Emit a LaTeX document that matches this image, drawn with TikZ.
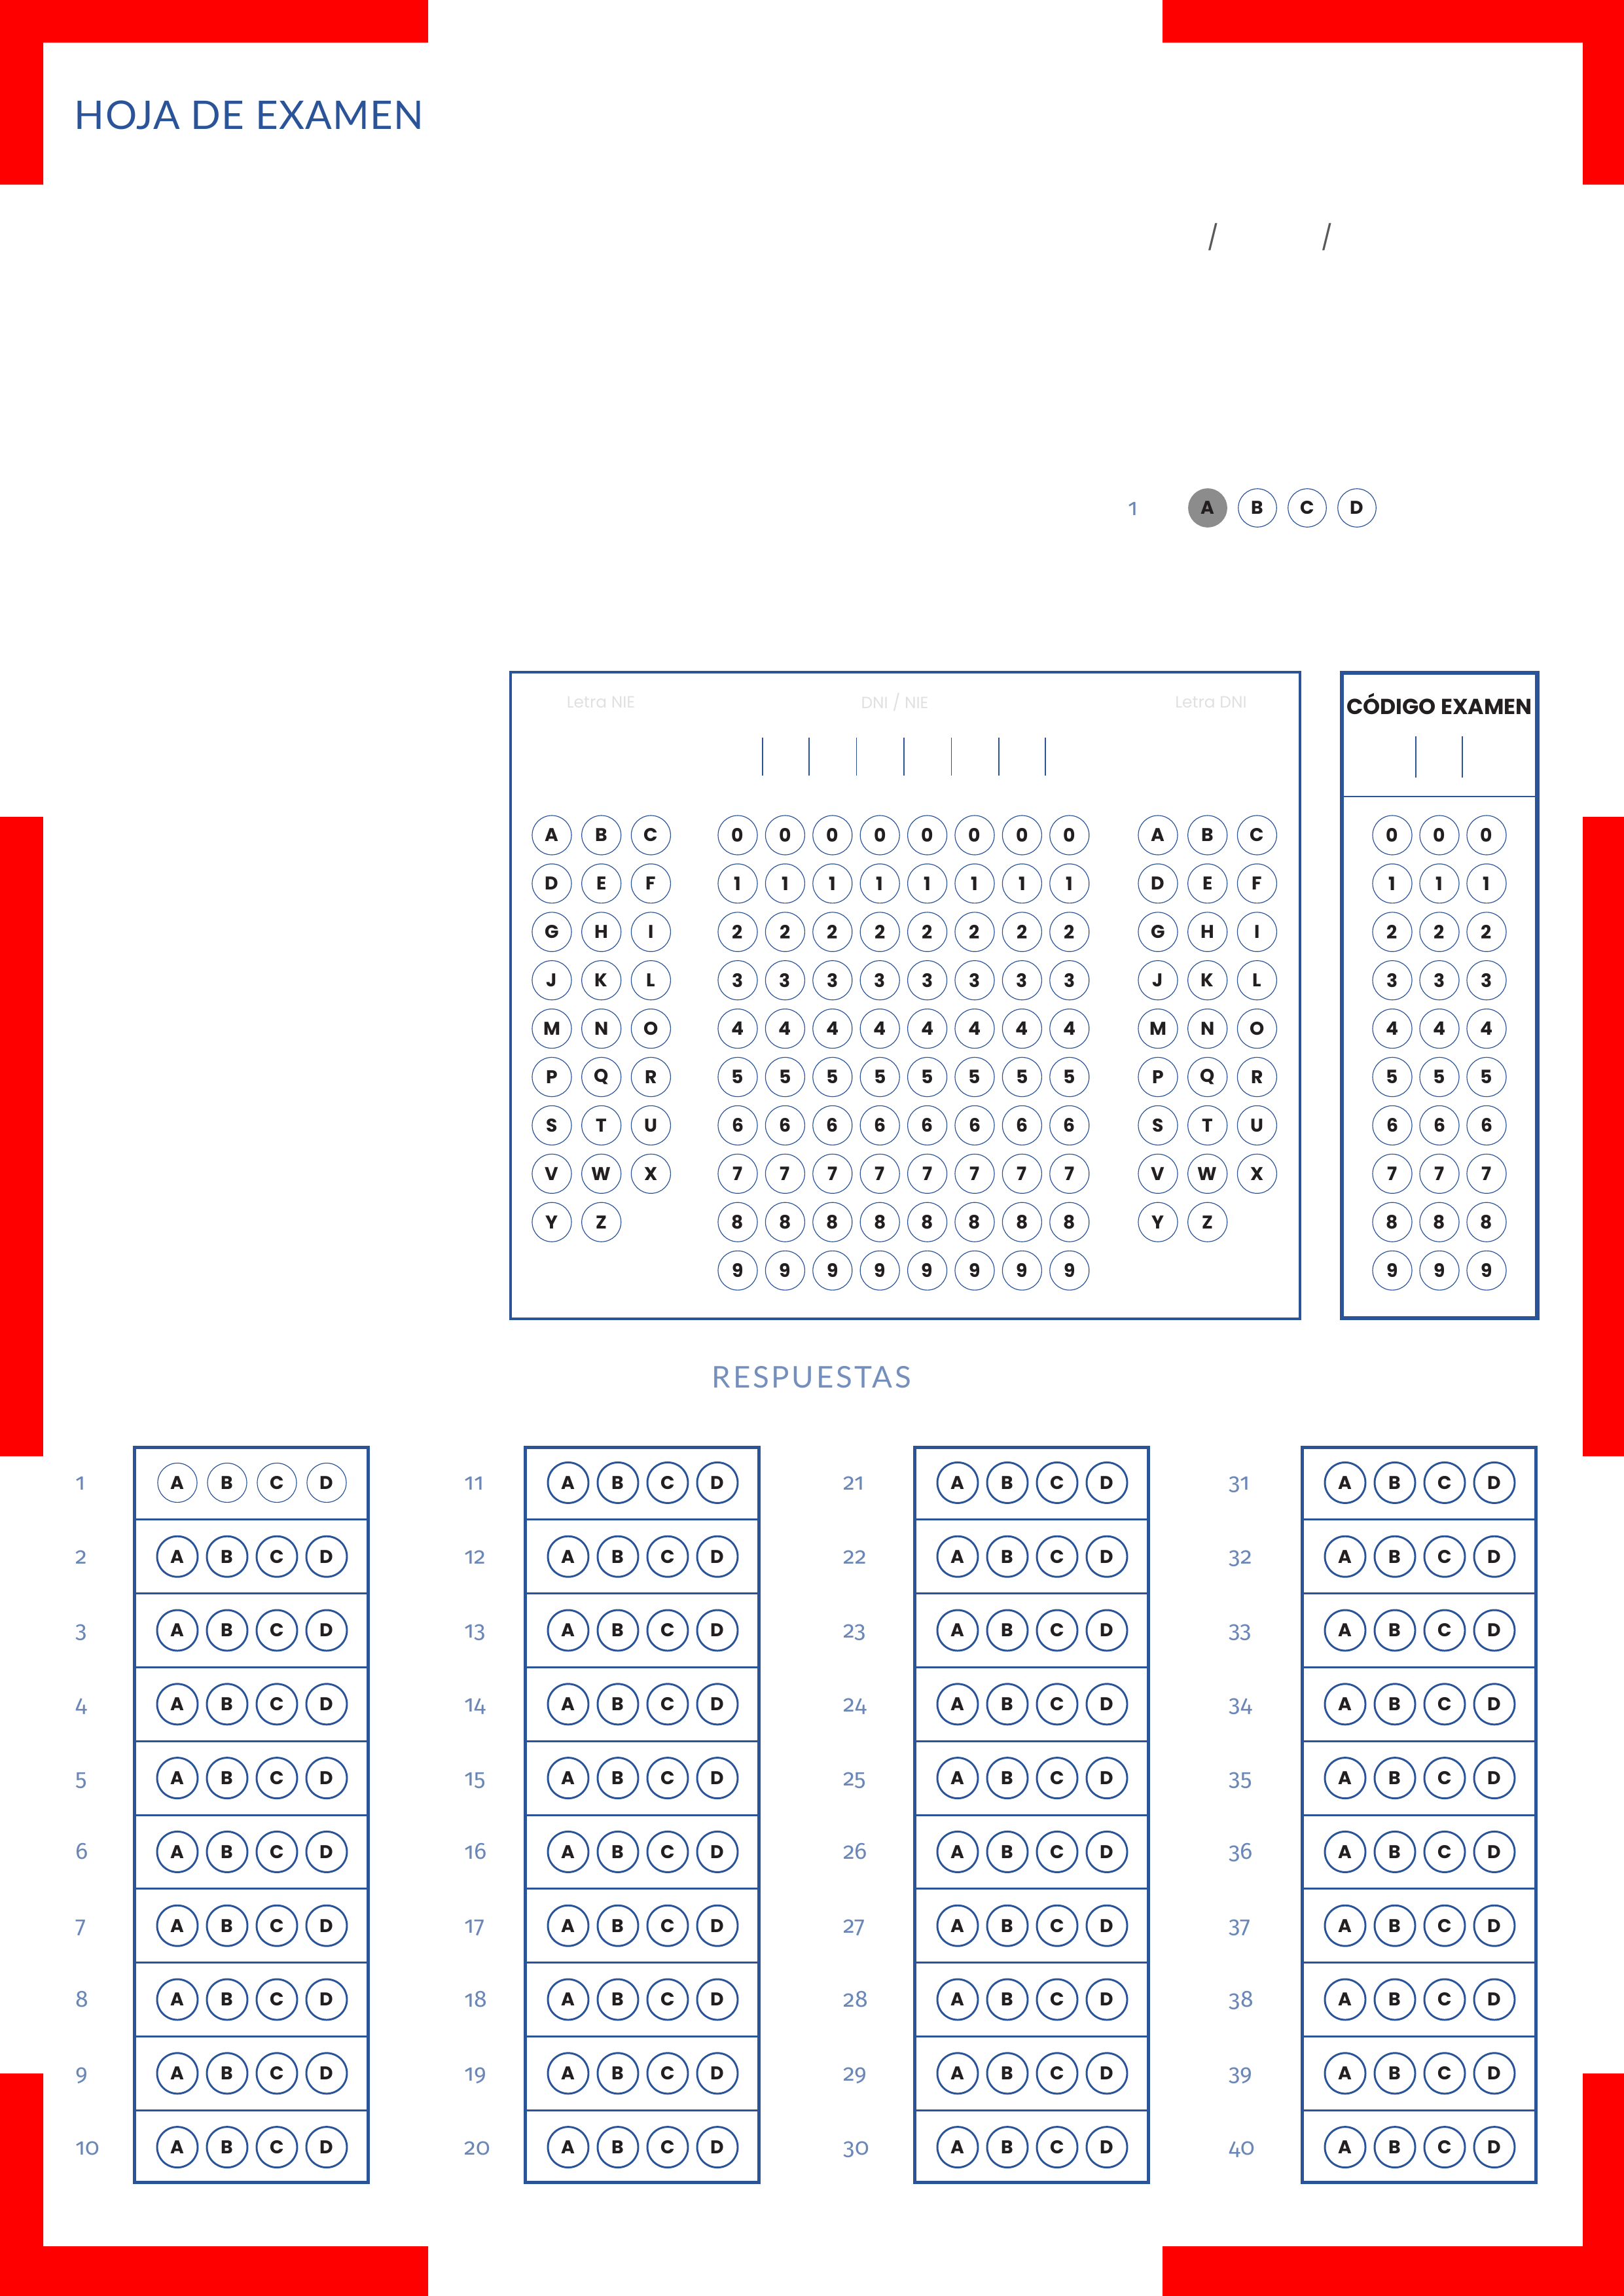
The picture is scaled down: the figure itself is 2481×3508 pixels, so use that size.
\documentclass[tikz,border=0pt]{standalone}
\usepackage{fontspec}
\setmainfont{Poppins}
\newfontfamily\numfont[Numbers=OldStyle]{Fira Sans}
\newfontfamily\titlefont[LetterSpace=2]{Lato}
\newfontfamily\headfont[LetterSpace=8]{Lato}
\definecolor{formblue}{RGB}{42,83,152}
\definecolor{markred}{RGB}{255,0,0}
\definecolor{inkgray}{RGB}{35,31,32}
\tikzset{
  bubble/.style={circle, draw=formblue, line width=0.1mm, minimum size=5.08mm, inner sep=0pt,
    text=inkgray, font=\bfseries\fontsize{6.8}{6.8}\selectfont},
  ansbubble/.style={bubble, line width=0.25mm, minimum size=5.25mm},
  qnum/.style={anchor=mid west, inner sep=0pt, text=formblue!70, font=\numfont\fontsize{8.6}{9}\selectfont},
  ghost/.style={inner sep=0pt, text=black!12, font=\fontsize{6}{6}\selectfont},
  tick/.style={draw=formblue, line width=0.12mm}
}
\begin{document}
\begin{tikzpicture}[x=0.084667mm,y=-0.084667mm]
        \useasboundingbox (0,0) rectangle (2481,3508);
        % Corner marks
        \fill[markred] (0,0) rectangle (654,65) (0,0) rectangle (66,282);
        \fill[markred] (1776,0) rectangle (2481,65) (2418,0) rectangle (2481,282);
        \fill[markred] (0,1248) rectangle (66,2225);
        \fill[markred] (2418,1248) rectangle (2481,2225);
        \fill[markred] (0,3168) rectangle (66,3508) (0,3432) rectangle (654,3508);
        \fill[markred] (2418,3168) rectangle (2481,3508) (1776,3432) rectangle (2481,3508);

        % Header
        \node[anchor=west, inner sep=0pt, text=formblue, font=\titlefont\fontsize{14.5}{15}\selectfont] (title) at (113,176) {HOJA DE EXAMEN};
        \node[inner sep=0pt, text=black!65, font=\fontsize{9}{9}\selectfont] (date-s1) at (1853,362) {/};
        \node[inner sep=0pt, text=black!65, font=\fontsize{9}{9}\selectfont] (date-s2) at (2027,362) {/};
        \node[qnum] (ex-num) at (1723,776) {1};
        \node[bubble, minimum size=4.95mm, fill=black!45, draw=black!45] (ex-A) at (1845,776) {A};
        \foreach \opt/\x in {B/1921,C/1997,D/2073}
            \node[bubble, minimum size=4.95mm] (ex-\opt) at (\x,776) {\opt};

        % DNI / NIE
        \draw[formblue, line width=0.34mm] (780,1027) rectangle (1986,2015);
        \node[ghost] (nie-head) at (918,1073) {Letra NIE};
        \node[ghost] (num-head) at (1367,1073) {DNI / NIE};
        \node[ghost] (dni-head) at (1850,1073) {Letra DNI};
        \foreach \x in {1165,1236,1308.5,1381,1453.5,1526,1597}
            \draw[tick] (\x,1127) -- (\x,1185);
        \foreach \l [count=\i from 0] in {A,...,Z} {
            \pgfmathtruncatemacro\row{int(\i/3)}
            \pgfmathtruncatemacro\col{mod(\i,3)}
            \node[bubble] (nie-\l) at ({843+75.7*\col},{1276+73.9*\row}) {\l};
            \node[bubble] (dni-\l) at ({1769+75.7*\col},{1276+73.9*\row}) {\l};
        }
        \foreach \d in {0,...,9} {
            \foreach \c in {1,...,8}
                \node[bubble] (num-\c-\d) at ({1127+72.4*(\c-1)},{1276+73.9*\d}) {\d};
            \foreach \c in {1,2,3}
                \node[bubble] (cod-\c-\d) at ({2127+72*(\c-1)},{1276+73.9*\d}) {\d};
        }

        % Codigo examen
        \draw[formblue, line width=0.55mm] (2050,1028) rectangle (2348.5,2014);
        \draw[formblue, line width=0.15mm] (2050,1217) -- (2348.5,1217);
        \node[inner sep=0pt, text=inkgray, font=\bfseries\fontsize{8}{8}\selectfont] (cod-head) at (2199,1075) {CÓDIGO EXAMEN};
        \foreach \x in {2163,2234}
            \draw[tick] (\x,1125) -- (\x,1188);

        % Respuestas
        \node[inner sep=0pt, text=formblue!65, font=\headfont\fontsize{11}{12}\selectfont] (ans-head) at (1240,2104) {RESPUESTAS};
        \foreach \k/\bx/\nx in {0/203/115,1/800/709,2/1395/1288,3/1987/1877} {
            \draw[formblue, line width=0.42mm] ({\bx+2.5},2211.5) rectangle ({\bx+359.5},3334.5);
            \foreach \q in {1,...,9}
                \draw[formblue, line width=0.25mm] ({\bx+2.5},{2209+112.8*\q}) -- ({\bx+359.5},{2209+112.8*\q});
            \foreach \q in {1,...,10} {
                \pgfmathtruncatemacro\n{10*\k+\q}
                \ifnum\n=1 \def\bst{bubble}\else\def\bst{ansbubble}\fi
                \node[qnum] (q\n) at (\nx,{2209+112.8*(\q-0.5)}) {\n};
                \foreach \opt [count=\j from 0] in {A,B,C,D}
                    \node[\bst] (q\n-\opt) at ({\bx+68+76*\j},{2209+112.8*(\q-0.5)}) {\opt};
            }
        }
\end{tikzpicture}
\end{document}
